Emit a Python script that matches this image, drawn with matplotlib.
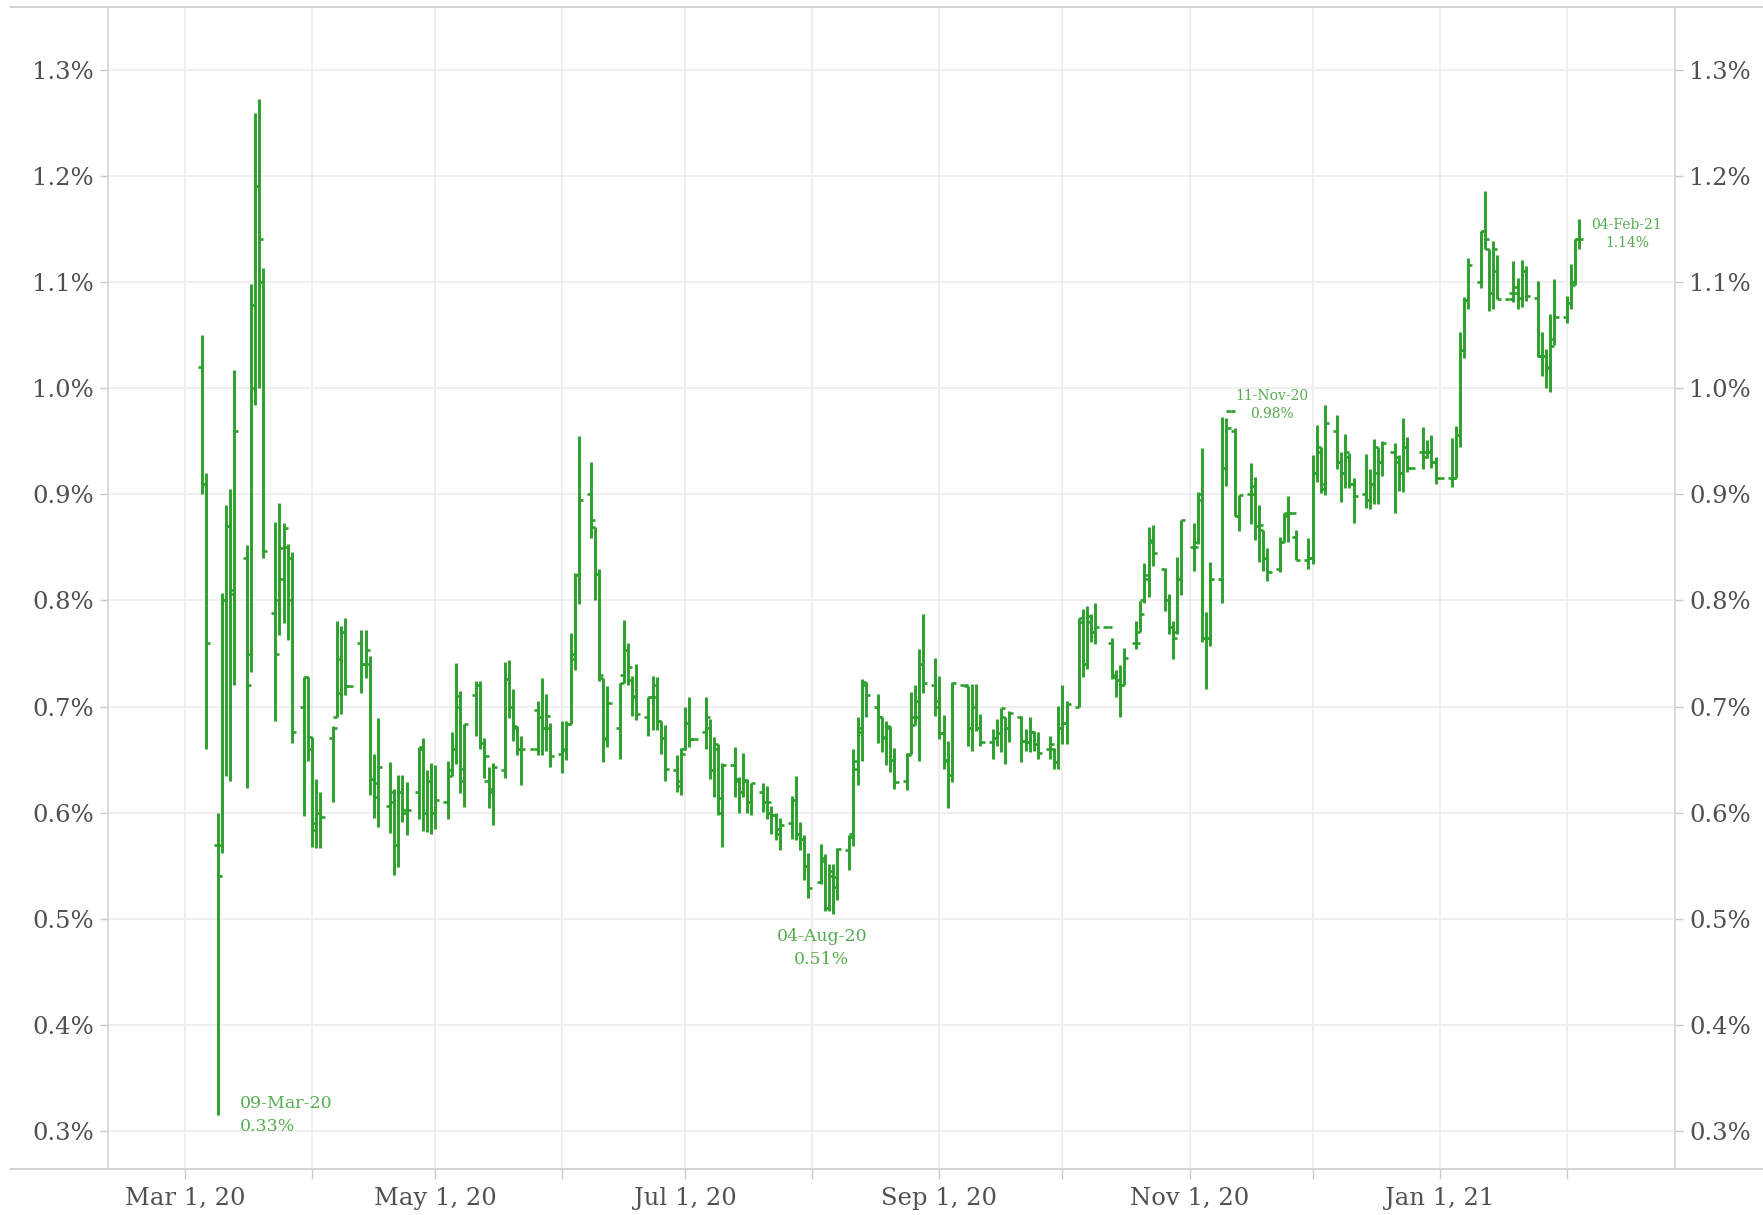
import matplotlib
matplotlib.use("Agg")
import matplotlib.pyplot as plt
import matplotlib.dates as mdates
from matplotlib.lines import Line2D
from matplotlib.ticker import FuncFormatter, FixedLocator
import numpy as np
import pandas as pd

# ---------------- data (daily OHLC, % yield) ----------------
# every weekday from 05-Mar-2020 to 04-Feb-2021 (holidays carried flat)
dates = pd.bdate_range("2020-03-05", "2021-02-04")

opens = [
    # Mar 2020
    1.02, 0.91, 0.57, 0.57, 0.80, 0.87, 0.81, 0.84, 0.75, 1.00, 1.19, 1.10,
    0.788, 0.80, 0.82, 0.85, 0.84, 0.70, 0.728,
    # Apr
    0.66, 0.59, 0.60, 0.67, 0.69, 0.713, 0.77, 0.719, 0.76, 0.74, 0.74, 0.632,
    0.628, 0.606, 0.61, 0.57, 0.62, 0.60, 0.62, 0.66, 0.60, 0.63,
    # May
    0.60, 0.61, 0.64, 0.66, 0.70, 0.63, 0.711, 0.72, 0.666, 0.63, 0.622, 0.64,
    0.726, 0.70, 0.68, 0.66, 0.66, 0.697, 0.69, 0.68, 0.68,
    # Jun
    0.655, 0.66, 0.684, 0.745, 0.824, 0.90, 0.869, 0.825, 0.727, 0.67, 0.68,
    0.73, 0.753, 0.725, 0.71, 0.69, 0.709, 0.72, 0.686, 0.67, 0.64, 0.625,
    # Jul
    0.66, 0.685, 0.669, 0.676, 0.68, 0.64, 0.66, 0.60, 0.645, 0.63, 0.62, 0.63,
    0.61, 0.62, 0.61, 0.60, 0.598, 0.58, 0.59, 0.612, 0.58, 0.575, 0.55,
    # Aug
    0.535, 0.555, 0.51, 0.54, 0.53, 0.565, 0.58, 0.649, 0.68, 0.72, 0.70, 0.69,
    0.67, 0.68, 0.65, 0.63, 0.655, 0.683, 0.69, 0.74, 0.72,
    # Sep
    0.70, 0.675, 0.65, 0.636, 0.72, 0.719, 0.68, 0.70, 0.68, 0.667, 0.67, 0.675,
    0.69, 0.68, 0.69, 0.668, 0.667, 0.676, 0.665, 0.66, 0.66, 0.648,
    # Oct
    0.68, 0.685, 0.70, 0.78, 0.74, 0.78, 0.77, 0.775, 0.76, 0.73, 0.725, 0.72,
    0.76, 0.77, 0.80, 0.82, 0.855, 0.83, 0.80, 0.775, 0.77, 0.82,
    # Nov
    0.85, 0.855, 0.90, 0.765, 0.765, 0.82, 0.925, 0.978, 0.96, 0.88, 0.90, 0.90,
    0.87, 0.866, 0.84, 0.83, 0.855, 0.88, 0.882, 0.86, 0.838,
    # Dec
    0.84, 0.92, 0.94, 0.91, 0.96, 0.93, 0.92, 0.935, 0.91, 0.90, 0.895, 0.91,
    0.945, 0.93, 0.94, 0.93, 0.92, 0.945, 0.925, 0.94, 0.94, 0.94, 0.93,
    # Jan 2021
    0.915, 0.915, 0.915, 0.956, 1.036, 1.083, 1.10, 1.148, 1.131, 1.09, 1.11,
    1.084, 1.09, 1.095, 1.085, 1.11, 1.085, 1.03, 1.03, 1.02, 1.046,
    # Feb
    1.067, 1.08, 1.10, 1.14,
]

highs = [
    # Mar 2020
    1.05, 0.92, 0.60, 0.807, 0.89, 0.905, 1.017, 0.852, 1.098, 1.259, 1.272, 1.113,
    0.874, 0.892, 0.873, 0.853, 0.846, 0.728, 0.728,
    # Apr
    0.671, 0.632, 0.62, 0.682, 0.781, 0.776, 0.783, 0.719, 0.772, 0.772, 0.748, 0.655,
    0.689, 0.648, 0.622, 0.636, 0.636, 0.629, 0.662, 0.67, 0.64, 0.647,
    # May
    0.645, 0.649, 0.676, 0.741, 0.715, 0.684, 0.724, 0.724, 0.67, 0.643, 0.647, 0.742,
    0.744, 0.717, 0.682, 0.672, 0.66, 0.705, 0.727, 0.712, 0.685,
    # Jun
    0.686, 0.686, 0.769, 0.826, 0.955, 0.93, 0.869, 0.83, 0.727, 0.719, 0.722,
    0.782, 0.76, 0.729, 0.74, 0.709, 0.729, 0.728, 0.686, 0.683, 0.654, 0.661,
    # Jul
    0.70, 0.709, 0.669, 0.709, 0.688, 0.671, 0.665, 0.647, 0.662, 0.634, 0.656, 0.632,
    0.628, 0.628, 0.625, 0.606, 0.60, 0.595, 0.616, 0.635, 0.591, 0.579, 0.562,
    # Aug
    0.571, 0.561, 0.552, 0.552, 0.567, 0.579, 0.66, 0.69, 0.726, 0.723, 0.712, 0.69,
    0.686, 0.682, 0.661, 0.656, 0.714, 0.72, 0.754, 0.787, 0.746,
    # Sep
    0.729, 0.692, 0.668, 0.723, 0.72, 0.719, 0.721, 0.721, 0.693, 0.679, 0.688, 0.699,
    0.69, 0.696, 0.691, 0.679, 0.69, 0.677, 0.676, 0.672, 0.661, 0.701,
    # Oct
    0.72, 0.705, 0.783, 0.792, 0.795, 0.787, 0.798, 0.775, 0.765, 0.734, 0.739, 0.755,
    0.781, 0.799, 0.835, 0.869, 0.871, 0.831, 0.806, 0.781, 0.841, 0.876,
    # Nov
    0.873, 0.902, 0.944, 0.789, 0.836, 0.973, 0.972, 0.978, 0.962, 0.899, 0.929, 0.916,
    0.89, 0.866, 0.849, 0.86, 0.882, 0.898, 0.882, 0.866, 0.859,
    # Dec
    0.937, 0.965, 0.945, 0.984, 0.975, 0.94, 0.957, 0.939, 0.915, 0.938, 0.924, 0.952,
    0.945, 0.95, 0.948, 0.937, 0.972, 0.954, 0.925, 0.963, 0.951, 0.956, 0.935,
    # Jan 2021
    0.915, 0.953, 0.964, 1.053, 1.086, 1.123, 1.148, 1.186, 1.131, 1.139, 1.125,
    1.084, 1.12, 1.104, 1.121, 1.115, 1.101, 1.053, 1.037, 1.07, 1.103,
    # Feb
    1.087, 1.117, 1.14, 1.159,
]

lows = [
    # Mar 2020
    0.90, 0.66, 0.315, 0.562, 0.635, 0.63, 0.72, 0.623, 0.733, 0.984, 1.00, 0.84,
    0.686, 0.767, 0.779, 0.763, 0.666, 0.597, 0.649,
    # Apr
    0.568, 0.567, 0.567, 0.61, 0.69, 0.693, 0.711, 0.719, 0.713, 0.727, 0.617, 0.595,
    0.587, 0.581, 0.541, 0.549, 0.591, 0.579, 0.594, 0.583, 0.582, 0.58,
    # May
    0.585, 0.594, 0.635, 0.646, 0.619, 0.605, 0.672, 0.66, 0.633, 0.604, 0.588, 0.633,
    0.689, 0.668, 0.654, 0.626, 0.66, 0.654, 0.654, 0.658, 0.643,
    # Jun
    0.637, 0.65, 0.684, 0.734, 0.797, 0.859, 0.80, 0.724, 0.648, 0.662, 0.651,
    0.722, 0.72, 0.691, 0.687, 0.672, 0.678, 0.678, 0.655, 0.63, 0.62, 0.617,
    # Jul
    0.659, 0.662, 0.669, 0.66, 0.632, 0.615, 0.598, 0.568, 0.615, 0.60, 0.615, 0.60,
    0.598, 0.601, 0.594, 0.58, 0.574, 0.565, 0.575, 0.574, 0.565, 0.537, 0.52,
    # Aug
    0.533, 0.507, 0.507, 0.505, 0.518, 0.546, 0.569, 0.626, 0.649, 0.69, 0.666, 0.657,
    0.645, 0.638, 0.622, 0.621, 0.655, 0.683, 0.649, 0.713, 0.691,
    # Sep
    0.669, 0.641, 0.604, 0.629, 0.72, 0.663, 0.658, 0.677, 0.663, 0.651, 0.663, 0.657,
    0.646, 0.667, 0.648, 0.658, 0.657, 0.658, 0.651, 0.651, 0.641, 0.641,
    # Oct
    0.665, 0.665, 0.70, 0.728, 0.735, 0.761, 0.759, 0.775, 0.726, 0.709, 0.69, 0.72,
    0.754, 0.77, 0.798, 0.803, 0.832, 0.79, 0.768, 0.745, 0.768, 0.805,
    # Nov
    0.828, 0.853, 0.761, 0.717, 0.757, 0.798, 0.908, 0.978, 0.88, 0.865, 0.872, 0.857,
    0.836, 0.828, 0.818, 0.827, 0.855, 0.855, 0.882, 0.838, 0.83,
    # Dec
    0.834, 0.912, 0.901, 0.899, 0.924, 0.893, 0.906, 0.906, 0.873, 0.887, 0.886, 0.891,
    0.891, 0.917, 0.882, 0.903, 0.902, 0.921, 0.925, 0.924, 0.934, 0.925, 0.91,
    # Jan 2021
    0.915, 0.907, 0.915, 0.945, 1.028, 1.075, 1.094, 1.131, 1.073, 1.075, 1.084,
    1.084, 1.081, 1.075, 1.076, 1.082, 1.029, 1.011, 1.00, 0.996, 1.041,
    # Feb
    1.061, 1.075, 1.097, 1.131,
]

closes = [
    # Mar 2020
    0.91, 0.76, 0.54, 0.80, 0.87, 0.806, 0.96, 0.72, 1.078, 1.19, 1.14, 0.847,
    0.75, 0.849, 0.868, 0.80, 0.676, 0.728, 0.671,
    # Apr
    0.584, 0.60, 0.596, 0.68, 0.745, 0.77, 0.719, 0.719, 0.74, 0.753, 0.632, 0.615,
    0.643, 0.62, 0.57, 0.62, 0.603, 0.603, 0.662, 0.60, 0.63, 0.60,
    # May
    0.612, 0.635, 0.66, 0.71, 0.641, 0.684, 0.72, 0.666, 0.653, 0.62, 0.643, 0.726,
    0.70, 0.682, 0.66, 0.66, 0.66, 0.69, 0.68, 0.691, 0.653,
    # Jun
    0.659, 0.684, 0.75, 0.824, 0.895, 0.876, 0.825, 0.73, 0.669, 0.703, 0.722,
    0.753, 0.737, 0.709, 0.693, 0.709, 0.709, 0.686, 0.67, 0.641, 0.63, 0.655,
    # Jul
    0.685, 0.669, 0.669, 0.69, 0.64, 0.665, 0.614, 0.645, 0.632, 0.62, 0.631, 0.61,
    0.628, 0.61, 0.61, 0.598, 0.585, 0.588, 0.612, 0.58, 0.575, 0.55, 0.529,
    # Aug
    0.557, 0.51, 0.545, 0.539, 0.566, 0.577, 0.641, 0.676, 0.723, 0.711, 0.69, 0.671,
    0.682, 0.65, 0.629, 0.654, 0.69, 0.705, 0.74, 0.722, 0.705,
    # Sep
    0.675, 0.649, 0.636, 0.722, 0.72, 0.68, 0.70, 0.68, 0.667, 0.67, 0.675, 0.699,
    0.68, 0.694, 0.668, 0.667, 0.676, 0.665, 0.656, 0.665, 0.648, 0.68,
    # Oct
    0.685, 0.702, 0.783, 0.74, 0.785, 0.77, 0.775, 0.775, 0.728, 0.725, 0.72, 0.746,
    0.76, 0.787, 0.824, 0.857, 0.845, 0.80, 0.775, 0.765, 0.82, 0.876,
    # Nov
    0.85, 0.895, 0.765, 0.765, 0.82, 0.925, 0.962, 0.978, 0.88, 0.899, 0.908, 0.87,
    0.871, 0.84, 0.827, 0.855, 0.882, 0.882, 0.882, 0.838, 0.84,
    # Dec
    0.92, 0.945, 0.905, 0.967, 0.93, 0.92, 0.94, 0.91, 0.898, 0.895, 0.91, 0.92,
    0.93, 0.948, 0.935, 0.92, 0.945, 0.925, 0.925, 0.935, 0.94, 0.93, 0.915,
    # Jan 2021
    0.915, 0.915, 0.956, 1.036, 1.083, 1.116, 1.148, 1.14, 1.09, 1.131, 1.084,
    1.084, 1.09, 1.085, 1.11, 1.087, 1.03, 1.03, 1.019, 1.04, 1.067,
    # Feb
    1.08, 1.097, 1.14, 1.14,
]

yticks = [0.3, 0.4, 0.5, 0.6, 0.7, 0.8, 0.9, 1.0, 1.1, 1.2, 1.3]
annotations = [
    ("09-Mar-20", "0.33%"),
    ("04-Aug-20", "0.51%"),
    ("11-Nov-20", "0.98%"),
    ("04-Feb-21", "1.14%"),
]

assert len(dates) == len(opens) == len(highs) == len(lows) == len(closes)

# ---------------- style ----------------
W, H = 1763, 1215
BAR = "#2ca02c"
ANN = "#55ad4f"
TXT = "#505050"
GRID = "#ececec"
FRAME = "#d4d4d4"
FONT = "DejaVu Serif"

fig = plt.figure(figsize=(W / 100, H / 100), dpi=100)
ax = fig.add_axes([108 / W, 1 - 1169 / H, (1675 - 108) / W, (1169 - 6.7) / H])

x = mdates.date2num(dates.to_pydatetime())
o = np.array(opens); h = np.array(highs); l = np.array(lows); c = np.array(closes)
tick_w = 1.0
ax.vlines(x, l, h, color=BAR, lw=2.1, zorder=3)
ax.hlines(o, x - tick_w, x, color=BAR, lw=1.9, zorder=3)
ax.hlines(c, x, x + tick_w, color=BAR, lw=1.9, zorder=3)

ax.set_xlim(mdates.date2num(pd.Timestamp("2020-02-11 04:00")),
            mdates.date2num(pd.Timestamp("2021-02-27 10:00")))
ax.set_ylim(0.2644, 1.3593)

# y axis
ax.yaxis.set_major_locator(FixedLocator(yticks))
ax.yaxis.set_major_formatter(FuncFormatter(lambda v, p: f"{v:.1f}%"))
ax.tick_params(axis="y", which="major", left=True, right=True, labelleft=True,
               labelright=True, direction="out", length=6, width=1,
               color="#c8c8c8", labelcolor=TXT, labelsize=17.5, pad=4)

# x axis
ax.xaxis.set_major_locator(mdates.MonthLocator())
def fmt_x(v, p):
    d = mdates.num2date(v)
    if d.month % 2 == 1:
        return f"{d.strftime('%b')} {d.day}, {d.strftime('%y')}"
    return ""
ax.xaxis.set_major_formatter(FuncFormatter(fmt_x))
ax.tick_params(axis="x", which="major", direction="out", length=7, width=1,
               color="#c8c8c8", labelcolor=TXT, labelsize=17.5, pad=6)

for lab in ax.get_xticklabels() + ax.get_yticklabels():
    lab.set_fontfamily(FONT)
for lab in ax.yaxis.get_ticklabels(which="both"):
    lab.set_fontfamily(FONT)

ax.grid(True, color=GRID, lw=1.2, zorder=0)
ax.set_axisbelow(True)

for s in ["top", "bottom"]:
    ax.spines[s].set_visible(False)
for s in ["left", "right"]:
    ax.spines[s].set_color(FRAME)
    ax.spines[s].set_linewidth(1.2)

# outer frame lines running past the axes
for yy in (6.7, 1169):
    fig.add_artist(Line2D([11 / W, 1.0], [1 - yy / H, 1 - yy / H],
                          transform=fig.transFigure, color=FRAME, lw=1.5))

# annotations
ax.text(mdates.date2num(pd.Timestamp("2020-03-14 06:00")), 0.326, annotations[0][0],
        color=ANN, fontsize=12.5, family=FONT, ha="left", va="center")
ax.text(mdates.date2num(pd.Timestamp("2020-03-14 06:00")), 0.304, annotations[0][1],
        color=ANN, fontsize=12.5, family=FONT, ha="left", va="center")
ax.text(mdates.date2num(pd.Timestamp("2020-08-03 08:00")), 0.483, annotations[1][0],
        color=ANN, fontsize=12.5, family=FONT, ha="center", va="center")
ax.text(mdates.date2num(pd.Timestamp("2020-08-03 08:00")), 0.462, annotations[1][1],
        color=ANN, fontsize=12.5, family=FONT, ha="center", va="center")
ax.text(mdates.date2num(pd.Timestamp("2020-11-21 04:00")), 0.993, annotations[2][0],
        color=ANN, fontsize=10, family=FONT, ha="center", va="center")
ax.text(mdates.date2num(pd.Timestamp("2020-11-21 04:00")), 0.976, annotations[2][1],
        color=ANN, fontsize=10, family=FONT, ha="center", va="center")
ax.text(mdates.date2num(pd.Timestamp("2021-02-15 16:00")), 1.154, annotations[3][0],
        color=ANN, fontsize=10, family=FONT, ha="center", va="center")
ax.text(mdates.date2num(pd.Timestamp("2021-02-15 16:00")), 1.137, annotations[3][1],
        color=ANN, fontsize=10, family=FONT, ha="center", va="center")

fig.savefig("out.png", dpi=100, facecolor="white")
